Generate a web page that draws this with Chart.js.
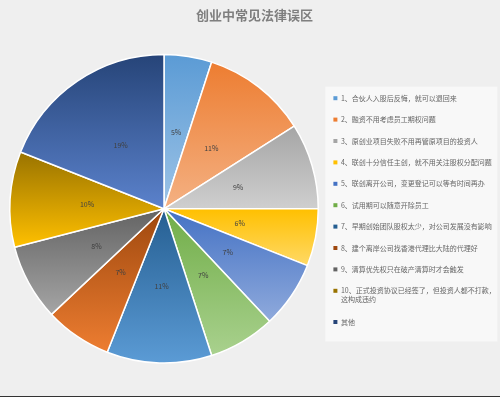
<!DOCTYPE html>
<html>
<head>
<meta charset="utf-8">
<script src="https://cdn.jsdelivr.net/npm/chart.js@4"></script>
<style>
  html, body { margin: 0; padding: 0; background: #efefef; }
  #wrap { width: 500px; height: 396px; border-bottom: 1px solid #333; }
</style>
</head>
<body>
<div id="wrap"><canvas id="chart" width="500" height="396"></canvas></div>
<script>
const categories = [
  '1、合伙人入股后反悔，就可以退回来',
  '2、融资不用考虑员工期权问题',
  '3、原创业项目失败不用再管原项目的投资人',
  '4、联创十分信任主创，就不用关注股权分配问题',
  '5、联创离开公司，变更登记可以等有时间再办',
  '6、试用期可以随意开除员工',
  '7、早期创始团队股权太少，对公司发展没有影响',
  '8、建个离岸公司找香港代理比大陆的代理好',
  '9、清算优先权只在破产清算时才会触发',
  ['10、正式投资协议已经签了，但投资人都不打款，', '这构成违约'],
  '其他'
];
const shares = [5, 11, 9, 6, 7, 7, 11, 7, 8, 10, 19];

// top / bottom of each slice's vertical gradient
const topColors = ['#5b9bd5', '#ed7d31', '#a5a5a5', '#ffc000', '#4472c4', '#70ad47',
                   '#255e91', '#9e480e', '#636363', '#997300', '#264478'];
const bottomColors = ['#9dc3e6', '#f4b183', '#cfcfcf', '#ffd966', '#8faadc', '#a9d18e',
                      '#5b9bd5', '#ed7d31', '#a5a5a5', '#ffc000', '#5b82cc'];
const legendColors = ['#5b9bd5', '#ed7d31', '#a5a5a5', '#ffc000', '#4472c4', '#70ad47',
                      '#255e91', '#9e480e', '#636363', '#997300', '#264478'];

const font = "'Noto Sans CJK SC', 'Noto Sans', sans-serif";

// give each slice a gradient over its own vertical extent
const sliceGradient = {
  id: 'sliceGradient',
  beforeDatasetsDraw(chart) {
    const ctx = chart.ctx;
    chart.getDatasetMeta(0).data.forEach((arc, i) => {
      const p = arc.getProps(['x', 'y', 'startAngle', 'endAngle', 'outerRadius'], true);
      const ys = [p.y, p.y + p.outerRadius * Math.sin(p.startAngle), p.y + p.outerRadius * Math.sin(p.endAngle)];
      const q = Math.PI / 2;
      for (let a = Math.ceil(p.startAngle / q) * q; a <= p.endAngle; a += q) {
        ys.push(p.y + p.outerRadius * Math.sin(a));
      }
      const g = ctx.createLinearGradient(0, Math.min(...ys), 0, Math.max(...ys));
      g.addColorStop(0, topColors[i]);
      g.addColorStop(1, bottomColors[i]);
      arc.options.backgroundColor = g;
    });
  }
};

// percent labels inside slices
const sliceLabels = {
  id: 'sliceLabels',
  afterDatasetsDraw(chart) {
    const ctx = chart.ctx;
    ctx.save();
    ctx.font = '7px ' + font;
    ctx.fillStyle = '#404040';
    ctx.textAlign = 'center';
    ctx.textBaseline = 'middle';
    chart.getDatasetMeta(0).data.forEach((arc, i) => {
      const pos = arc.tooltipPosition();
      ctx.fillText(shares[i] + '%', pos.x, pos.y);
    });
    ctx.restore();
  }
};

// lighter panel behind the legend
const legendPanel = {
  id: 'legendPanel',
  beforeDraw(chart) {
    const lg = chart.legend;
    if (!lg || !lg.legendHitBoxes || !lg.legendHitBoxes.length) return;
    const boxes = lg.legendHitBoxes;
    const first = boxes[0], last = boxes[boxes.length - 1];
    const ctx = chart.ctx;
    ctx.save();
    ctx.fillStyle = '#f8f8f8';
    ctx.fillRect(first.left - 8, first.top - 8, 172, last.top + last.height - first.top + 24);
    ctx.restore();
  }
};

new Chart(document.getElementById('chart'), {
  type: 'pie',
  data: {
    labels: categories,
    datasets: [{
      data: shares,
      backgroundColor: topColors.slice(),
      borderColor: '#ffffff',
      borderWidth: 1.5
    }]
  },
  options: {
    responsive: false,
    animation: false,
    layout: { padding: { left: 9, right: 0, top: 0, bottom: 9 } },
    plugins: {
      title: {
        display: true,
        text: '创业中常见法律误区',
        color: '#7f7f7f',
        font: { family: font, size: 13, weight: 'bold' },
        padding: { top: 7, bottom: 8 }
      },
      legend: {
        position: 'right',
        maxWidth: 181,
        title: { display: true, text: '', font: { size: 1 }, padding: { top: 32, bottom: 0 } },
        labels: {
          boxWidth: 4,
          boxHeight: 4,
          padding: 14.4,
          color: '#595959',
          font: { family: font, size: 7 },
          generateLabels() {
            return categories.map((c, i) => ({
              text: c,
              fillStyle: legendColors[i],
              strokeStyle: legendColors[i],
              lineWidth: 0,
              index: i,
              hidden: false
            }));
          }
        }
      },
      tooltip: { enabled: false }
    }
  },
  plugins: [legendPanel, sliceGradient, sliceLabels]
});
</script>
</body>
</html>
